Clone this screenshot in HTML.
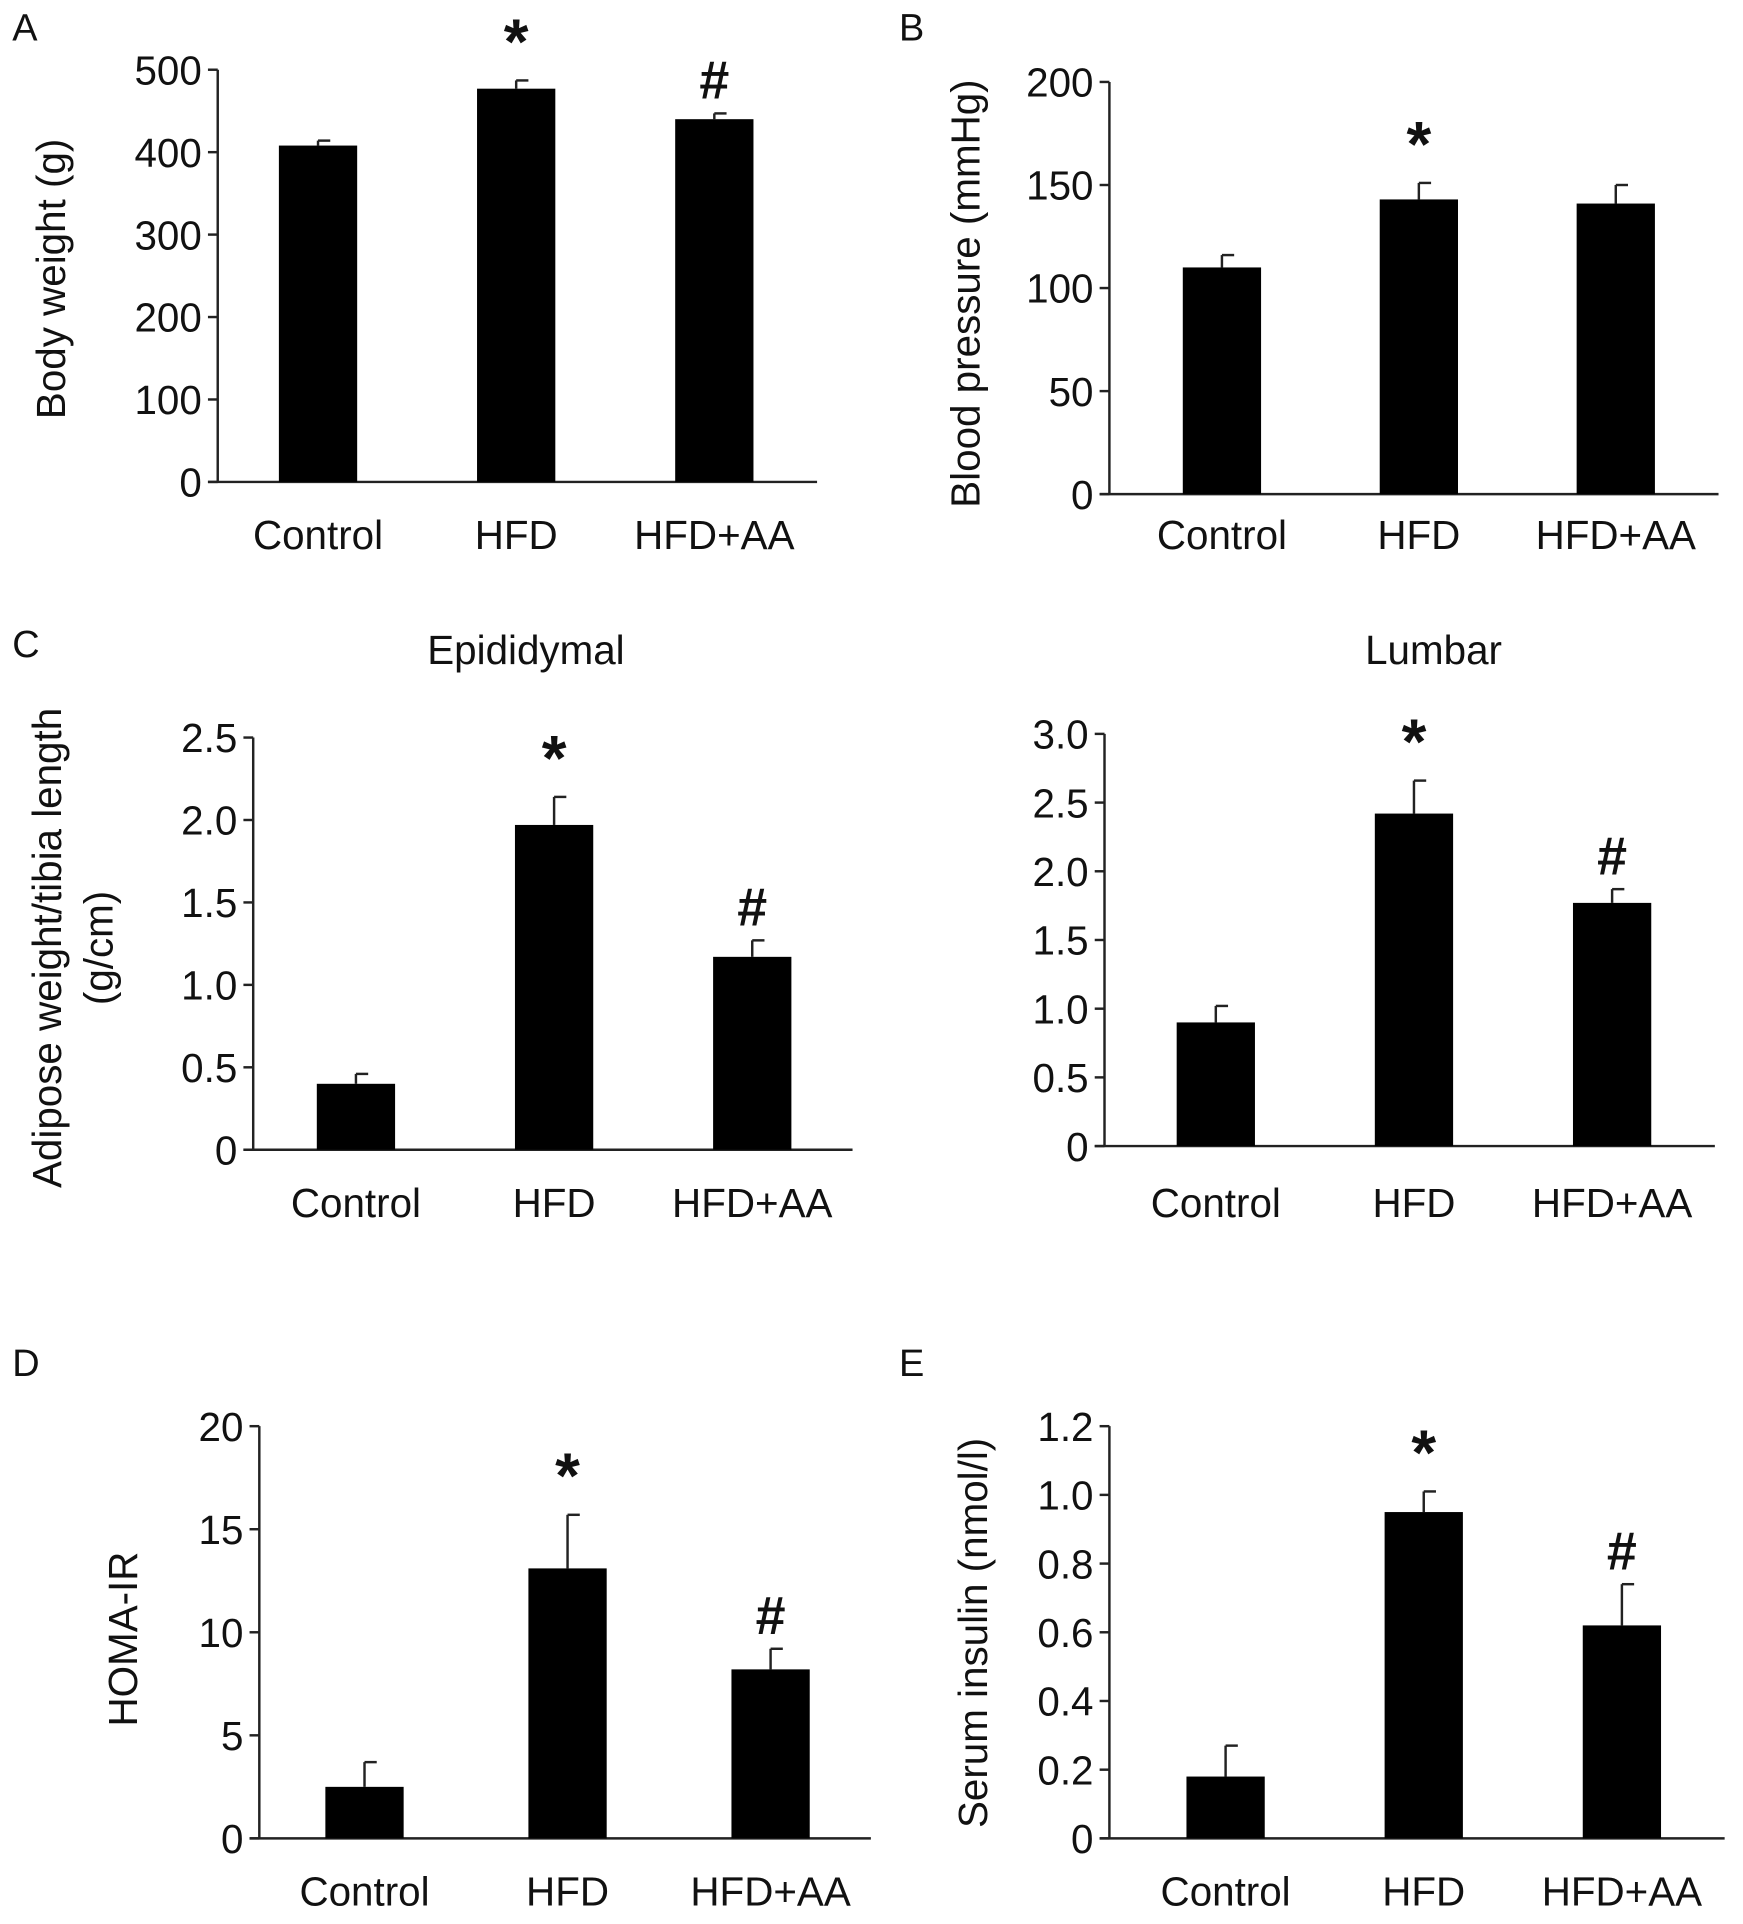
<!DOCTYPE html>
<html><head><meta charset="utf-8">
<style>
html,body{margin:0;padding:0;background:#fff;}
svg{display:block;}
text{font-family:"Liberation Sans",Arial,sans-serif;fill:#111;}
</style></head>
<body>
<svg id="fig" width="1743" height="1924" viewBox="0 0 1425 1573" xmlns="http://www.w3.org/2000/svg"></svg>
<script>
const categories = ["Control","HFD","HFD+AA"];
// Panel A
const aValues = [408, 477, 440];
const aErrors = [6, 10, 7];
const aTicks = [0,100,200,300,400,500];
const aTickLabels = ["0","100","200","300","400","500"];
const aMarks = ["", "*", "#"];
// Panel B
const bValues = [110, 143, 141];
const bErrors = [6, 8, 9];
const bTicks = [0,50,100,150,200];
const bTickLabels = ["0","50","100","150","200"];
const bMarks = ["", "*", ""];
// Panel C left
const cLValues = [0.40, 1.97, 1.17];
const cLErrors = [0.06, 0.17, 0.10];
const cLTicks = [0,0.5,1.0,1.5,2.0,2.5];
const cLTickLabels = ["0","0.5","1.0","1.5","2.0","2.5"];
const cLMarks = ["", "*", "#"];
// Panel C right
const cRValues = [0.90, 2.42, 1.77];
const cRErrors = [0.12, 0.24, 0.10];
const cRTicks = [0,0.5,1.0,1.5,2.0,2.5,3.0];
const cRTickLabels = ["0","0.5","1.0","1.5","2.0","2.5","3.0"];
const cRMarks = ["", "*", "#"];
// Panel D
const dValues = [2.5, 13.1, 8.2];
const dErrors = [1.2, 2.6, 1.0];
const dTicks = [0,5,10,15,20];
const dTickLabels = ["0","5","10","15","20"];
const dMarks = ["", "*", "#"];
// Panel E
const eValues = [0.18, 0.95, 0.62];
const eErrors = [0.09, 0.06, 0.12];
const eTicks = [0,0.2,0.4,0.6,0.8,1.0,1.2];
const eTickLabels = ["0","0.2","0.4","0.6","0.8","1.0","1.2"];
const eMarks = ["", "*", "#"];

const NS = "http://www.w3.org/2000/svg";
const svg = document.getElementById("fig");
function mk(tag, attrs, parent, txt){
  const e = document.createElementNS(NS, tag);
  for (const k in attrs) e.setAttribute(k, attrs[k]);
  if (txt !== undefined) e.textContent = txt;
  (parent||svg).appendChild(e);
  return e;
}

function panel(cfg){
  const g = mk("g", {});
  
  
  const max = cfg.ticks[cfg.ticks.length-1];
  const y = v => cfg.y0 - (v / max) * (cfg.y0 - cfg.yTop);
  const x = i => cfg.x0 + cfg.firstOffset + i * cfg.step;
  const ya = mk("line", {x1:cfg.x0, y1:cfg.yTop, x2:cfg.x0, y2:cfg.y0, stroke:"#222","stroke-width":2}, g);
  
  
  const xa = mk("line", {x1:cfg.x0-8, y1:cfg.y0, x2:cfg.xEnd, y2:cfg.y0, stroke:"#222","stroke-width":2}, g);
  
  
  cfg.ticks.forEach((t, i) => {
    const yy = y(t);
    const tk = mk("line", {x1:cfg.x0-8, y1:yy, x2:cfg.x0, y2:yy, stroke:"#222","stroke-width":2}, g);
    
    
    const lb = mk("text", {x:cfg.x0-13, y:yy+12, "text-anchor":"end","font-size":33}, g, cfg.tickLabels[i]);
    
    
  });
  const bw = 64;
  cfg.values.forEach((v, i) => {
    const cx = x(i);
    const top = y(v);
    const et = y(v + cfg.errors[i]);
    const eb = mk("line", {x1:cx, y1:top, x2:cx, y2:et, stroke:"#222","stroke-width":2}, g);
    
    
    const ec = mk("line", {x1:cx, y1:et, x2:cx+10, y2:et, stroke:"#222","stroke-width":2}, g);
    
    
    const r = mk("rect", {x:cx-bw/2, y:top, width:bw, height:cfg.y0-top, fill:"#000"}, g);
    
    
    if (cfg.marks[i]) {
      const star = cfg.marks[i]==="*";
      const m = mk("text", {x:cx, y:et - (star?14:12), "text-anchor":"middle","font-size":star?52:44,"font-weight":"bold"}, g, cfg.marks[i]);
      
      
    }
    const cl = mk("text", {x:cx, y:cfg.labelY, "text-anchor":"middle","font-size":33}, g, categories[i]);
    
    
  });
  if (cfg.title) {
    const t = mk("text", {x:cfg.titleX, y:cfg.titleY, "text-anchor":"middle","font-size":33}, g, cfg.title);
    
    
  }
  cfg.yTitle.forEach((line, k) => {
    const tx = cfg.yTitleX + k*42;
    const yt = mk("text", {x:tx, y:cfg.yTitleY, "text-anchor":"middle","font-size":33, transform:`rotate(-90 ${tx} ${cfg.yTitleY})`}, g, line);
    
    
  });
  if (cfg.letter) {
    const l = mk("text", {x:cfg.letterX, y:cfg.letterY, "font-size":31}, g, cfg.letter);
    
    
  }
}

panel({name:"panel-a-body-weight", values:aValues, errors:aErrors, ticks:aTicks, tickLabels:aTickLabels, marks:aMarks,
  x0:178, yTop:57, y0:394, xEnd:668, firstOffset:82, step:162, labelY:449,
  yTitle:["Body weight (g)"], yTitleX:53, yTitleY:228, letter:"A", letterX:10, letterY:33});
panel({name:"panel-b-blood-pressure", values:bValues, errors:bErrors, ticks:bTicks, tickLabels:bTickLabels, marks:bMarks,
  x0:907, yTop:67, y0:404, xEnd:1405, firstOffset:92, step:161, labelY:449,
  yTitle:["Blood pressure (mmHg)"], yTitleX:801, yTitleY:240, letter:"B", letterX:735, letterY:33});
panel({name:"panel-c-epididymal", values:cLValues, errors:cLErrors, ticks:cLTicks, tickLabels:cLTickLabels, marks:cLMarks,
  x0:207, yTop:603, y0:940, xEnd:697, firstOffset:84, step:162, labelY:995,
  title:"Epididymal", titleX:430, titleY:543,
  yTitle:["Adipose weight/tibia length","(g/cm)"], yTitleX:50, yTitleY:775, letter:"C", letterX:10, letterY:537});
panel({name:"panel-c-lumbar", values:cRValues, errors:cRErrors, ticks:cRTicks, tickLabels:cRTickLabels, marks:cRMarks,
  x0:903, yTop:600, y0:937, xEnd:1402, firstOffset:91, step:162, labelY:995,
  title:"Lumbar", titleX:1172, titleY:543, yTitle:[], yTitleX:0, yTitleY:0});
panel({name:"panel-d-homa-ir", values:dValues, errors:dErrors, ticks:dTicks, tickLabels:dTickLabels, marks:dMarks,
  x0:212, yTop:1166, y0:1503, xEnd:712, firstOffset:86, step:166, labelY:1558,
  yTitle:["HOMA-IR"], yTitleX:112, yTitleY:1340, letter:"D", letterX:10, letterY:1125});
panel({name:"panel-e-serum-insulin", values:eValues, errors:eErrors, ticks:eTicks, tickLabels:eTickLabels, marks:eMarks,
  x0:907, yTop:1166, y0:1503, xEnd:1410, firstOffset:95, step:162, labelY:1558,
  yTitle:["Serum insulin (nmol/l)"], yTitleX:807, yTitleY:1335, letter:"E", letterX:735, letterY:1125});
</script>
</body></html>
